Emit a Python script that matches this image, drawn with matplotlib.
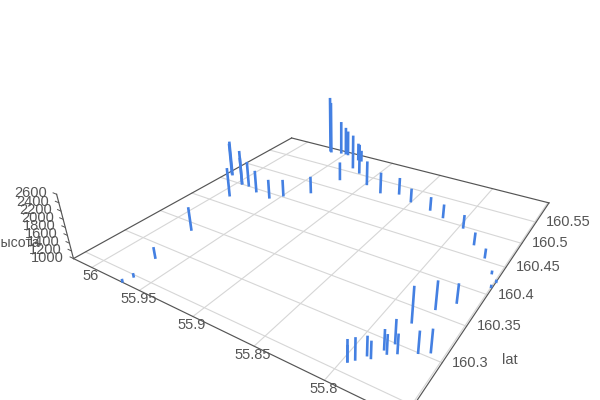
import numpy as np
import matplotlib
matplotlib.use('Agg')
import matplotlib.pyplot as plt
from mpl_toolkits.mplot3d import proj3d

plt.rcParams['font.family'] = ['Liberation Sans', 'DejaVu Sans']

lat = [160.594,160.592,160.596,160.597,160.596,160.564,160.589,160.555,160.588,160.526,160.532,160.522,160.531,
       160.465,160.467,160.420,160.452,160.452,160.452,160.445,160.441,160.454,160.478,160.521,160.515,160.507,
       160.498,160.473,160.456,160.434,160.423,160.413,160.330,160.357,160.375,160.300,160.306,160.300,160.291,
       160.289,160.286,160.276,160.275,160.267,160.262,160.262,160.339,160.281,160.248,160.237]
lng = [55.968,55.966,55.956,55.951,55.948,55.928,55.933,55.917,55.929,55.925,55.899,55.881,55.866,
       56.016,56.018,55.990,55.996,55.996,55.988,55.975,55.958,55.950,55.933,55.851,55.831,55.817,
       55.797,55.781,55.768,55.757,55.751,55.752,55.781,55.774,55.765,55.766,55.760,55.781,55.776,
       55.784,55.781,55.790,55.787,55.794,55.797,55.797,55.977,55.971,55.966,55.968]
height = [2620,2490,1930,1770,1680,1930,1450,1800,1260,1460,1630,1530,1410,
          1950,1860,1750,1920,1720,1660,1560,1470,1410,1410,1320,1310,1310,
          1300,1270,1190,1030,1020,1020,1810,1640,1430,1470,1500,1520,1410,
          1430,1410,1410,1360,1470,1470,1340,1570,1240,1050,1030]
lat_ticks = [160.25,160.3,160.35,160.4,160.45,160.5,160.55]
lng_ticks = [55.75,55.8,55.85,55.9,55.95,56.0]
z_ticks = [1000,1200,1400,1600,1800,2000,2200,2400,2600]
lat_lim = (160.236,160.601)
lng_lim = (55.751,56.021)
z_lim = (1000,2600)

W, H = 600, 400
S = 487.0; cx = 321.1; cy = 205.6
fig = plt.figure(figsize=(6,4), dpi=100)
ax = fig.add_axes([(cx-S/2)/W, (H-cy-S/2)/H, S/W, S/H], projection='3d', computed_zorder=False)
ax.set_axis_off()
ax.patch.set_visible(False)
ax.view_init(28.509, -146.355, 0.727)
ax.set_proj_type('persp', focal_length=float(np.exp(-1.5)))
ax.set_box_aspect((float(np.exp(-0.002)), 1, float(np.exp(-1.62))))

GRID = '#d6d6d6'; AXIS = '#555555'; BAR = '#4480e2'; TXT = '#555555'
kw = dict(clip_on=False)
for t in lat_ticks:
    ax.plot([t,t], lng_lim, [1000,1000], color=GRID, lw=0.8, zorder=1, **kw)
for t in lng_ticks:
    ax.plot(lat_lim, [t+0.002 if t==55.75 else t]*2, [1000,1000], color=GRID, lw=0.8, zorder=1, **kw)
for a,b in [((lat_lim[0],lng_lim[0]),(lat_lim[1],lng_lim[0])),
            ((lat_lim[0],lng_lim[0]),(lat_lim[0],lng_lim[1])),
            ((lat_lim[1],lng_lim[0]),(lat_lim[1],lng_lim[1])),
            ((lat_lim[0],lng_lim[1]),(lat_lim[1],lng_lim[1]))]:
    ax.plot([a[0],b[0]],[a[1],b[1]],[1000,1000],color=AXIS,lw=0.85,zorder=2,**kw)
ax.plot([lat_lim[0]]*2,[lng_lim[1]]*2,z_lim,color=AXIS,lw=0.85,zorder=2,**kw)
for z in z_ticks:
    ax.plot([lat_lim[0]]*2,[lng_lim[1],lng_lim[1]+0.004],[z,z],color=AXIS,lw=0.7,zorder=2,**kw)
for la,ln,h in zip(lat,lng,height):
    ax.plot([la,la],[ln,ln],[1000,h],color=BAR,lw=1.9,zorder=3,solid_capstyle='projecting',**kw)
ax.set_xlim(*lat_lim); ax.set_ylim(*lng_lim); ax.set_zlim(*z_lim)

M = ax.get_proj()
def label(s, x, y, z, dx, dy, ha='center', va='center', size=10.5):
    x2,y2,_ = proj3d.proj_transform(x,y,z,M)
    ax.annotate(s, xy=(x2,y2), xycoords='data', xytext=(dx,-dy), textcoords='offset pixels',
                ha=ha, va=va, color=TXT, fontsize=size, annotation_clip=False)
for t in lng_ticks[1:]:
    label(('%.2f'%t).rstrip('0').rstrip('.'), lat_lim[0], t, 1000, -1, 9)
for t in lat_ticks[1:]:
    label(('%.2f'%t).rstrip('0'), t, lng_lim[0], 1000, 10, 0, ha='left')
for z in z_ticks:
    label(str(z), lat_lim[0], lng_lim[1], z, -9.5, -1, ha='right')
label('lat', 160.3, lng_lim[0], 1000, 68, -3)
label('высота', lat_lim[0], lng_lim[1], 1000, -57.5, -16, size=10.1)
fig.savefig('out.png', dpi=100)
